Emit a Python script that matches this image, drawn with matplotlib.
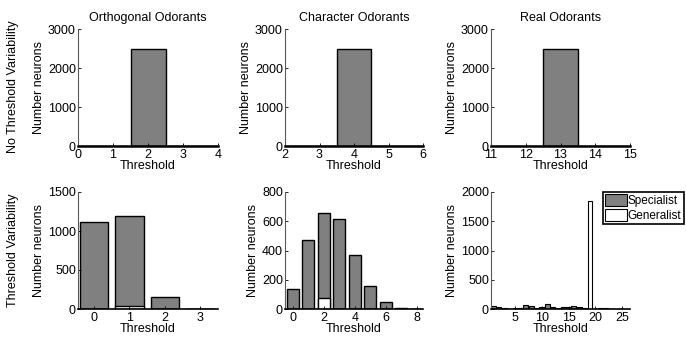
import matplotlib
matplotlib.use("Agg")
import matplotlib.pyplot as plt
import numpy as np

plt.rcParams['font.family'] = ['Liberation Sans', 'DejaVu Sans']
plt.rcParams['font.size'] = 9

# top row: no threshold variability
titles = ["Orthogonal Odorants", "Character Odorants", "Real Odorants"]
top_x = [[0, 1, 2, 3, 4], [2, 3, 4, 5, 6], [11, 12, 13, 14, 15]]
top_counts = [[0, 0, 2500, 0, 0], [0, 0, 2500, 0, 0], [0, 0, 2500, 0, 0]]

# bottom row: threshold variability
orth_x = [0, 1, 2, 3]
orth_spec = [1118, 1195, 159, 3]
orth_gen = [0, 39, 0, 0]

char_x = [0, 1, 2, 3, 4, 5, 6, 7, 8]
char_spec = [137, 469, 657, 612, 370, 158, 46, 9, 2]
char_gen = [0, 0, 75, 0, 0, 0, 0, 0, 0]

real_x = list(range(1, 27))
real_spec = [45, 35, 20, 5, 10, 20, 60, 45, 10, 30, 80, 30, 15, 40, 35, 50,
             30, 10, 0, 5, 20, 10, 3, 2, 5, 2]
real_gen = [0] * 18 + [1850] + [0] * 7

gray = (0.5, 0.5, 0.5)
W, H = 686, 341
fig = plt.figure(figsize=(W / 100, H / 100), dpi=100)

lefts = [78, 285, 491]
widths = [140, 138, 139]

def make_ax(i, top, height, thick=False):
    ax = fig.add_axes([lefts[i] / W, 1 - (top + height) / H, widths[i] / W, height / H])
    for s in ['top', 'right']:
        ax.spines[s].set_visible(False)
    ax.spines['left'].set_color((0.35, 0.35, 0.35))
    ax.spines['bottom'].set_linewidth(1.8 if thick else 1.2)
    ax.tick_params(direction='in', length=2, width=0.6, pad=1.5)
    ax.tick_params(axis='x', pad=2.5)
    ax.set_ylabel("Number neurons", labelpad=2)
    ax.set_xlabel("Threshold", labelpad=-1)
    return ax

for i in range(3):
    ax = make_ax(i, 29, 117, thick=True)
    ax.bar(top_x[i], top_counts[i], width=1, color=gray, edgecolor='k', linewidth=1)
    ax.set_xlim(top_x[i][0], top_x[i][-1])
    ax.set_ylim(0, 3000)
    ax.set_yticks([0, 1000, 2000, 3000])
    ax.set_xticks(top_x[i])
    ax.set_title(titles[i], fontsize=9, pad=6)

ax = make_ax(0, 192, 117)
ax.bar(orth_x, orth_spec, width=0.8, color=gray, edgecolor='k', linewidth=1)
ax.bar(orth_x, orth_gen, width=0.8, color='white', edgecolor='k', linewidth=1)
ax.set_xlim(-0.45, 3.5)
ax.set_ylim(0, 1500)
ax.set_yticks([0, 500, 1000, 1500])
ax.set_xticks([0, 1, 2, 3])

ax = make_ax(1, 192, 117)
ax.bar(char_x, char_spec, width=0.8, color=gray, edgecolor='k', linewidth=1)
ax.bar(char_x, char_gen, width=0.8, color='white', edgecolor='k', linewidth=1)
ax.set_xlim(-0.5, 8.4)
ax.set_ylim(0, 800)
ax.set_yticks([0, 200, 400, 600, 800])
ax.set_xticks([0, 2, 4, 6, 8])

ax = make_ax(2, 192, 117)
b1 = ax.bar(real_x, real_spec, width=0.9, color=gray, edgecolor='k', linewidth=0.8,
            label="Specialist")
b2 = ax.bar(real_x, real_gen, width=0.7, color='white', edgecolor='k', linewidth=0.8,
            label="Generalist")
ax.set_xlim(0.5, 26.5)
ax.set_ylim(0, 2000)
ax.set_yticks([0, 500, 1000, 1500, 2000])
ax.set_xticks([5, 10, 15, 20, 25])

leg = fig.legend(handles=[b1, b2], loc='upper left', bbox_to_anchor=(603 / W, 1 - 192 / H),
                 bbox_transform=fig.transFigure, fancybox=False, framealpha=1,
                 edgecolor='k', borderpad=0.2, handlelength=1.8, handleheight=1.2,
                 handletextpad=0.1, labelspacing=0.1, borderaxespad=0, fontsize=8.5)
leg.get_frame().set_linewidth(1.2)

fig.text(13 / W, 1 - 87 / H, "No Threshold Variability", rotation=90, ha='center', va='center')
fig.text(13 / W, 1 - 250 / H, "Threshold Variability", rotation=90, ha='center', va='center')

fig.savefig("out.png", dpi=100)
